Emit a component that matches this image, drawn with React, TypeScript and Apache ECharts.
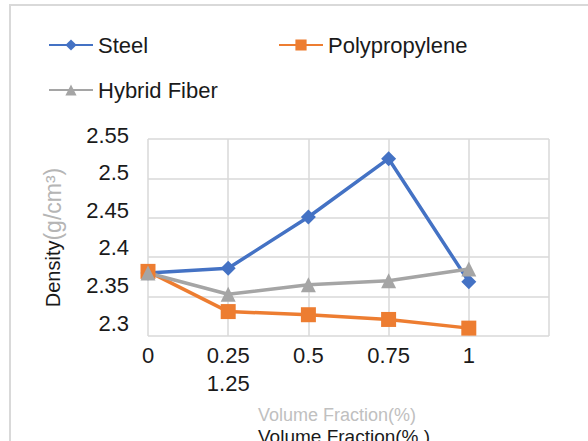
import React, { useEffect, useRef } from "react";
import * as echarts from "echarts";

const seriesNames = ["Steel", "Polypropylene", "Hybrid Fiber"];
const xValues = [0, 0.25, 0.5, 0.75, 1];
const steel = [2.38, 2.386, 2.451, 2.525, 2.369];
const polypropylene = [2.382, 2.331, 2.327, 2.321, 2.31];
const hybrid = [2.38, 2.353, 2.365, 2.37, 2.385];
const colors = ["#4472C4", "#ED7D31", "#A5A5A5"];
const symbols = ["diamond", "rect", "triangle"];

const FONT = "'Liberation Sans', Arial, sans-serif";

export default function App() {
  const ref = useRef<HTMLDivElement>(null);
  useEffect(() => {
    if (!ref.current) return;
    const chart = echarts.init(ref.current, null, { renderer: "svg" });
    const datasets = [steel, polypropylene, hybrid];
    const legendPos = [
      { left: 48, top: 34 },
      { left: 278, top: 34 },
      { left: 48, top: 79 },
    ];
    chart.setOption({
      animation: false,
      backgroundColor: "#ffffff",
      textStyle: { fontFamily: FONT },
      legend: seriesNames.map((n, i) => ({
        data: [n],
        left: legendPos[i].left,
        top: legendPos[i].top,
        padding: 0,
        itemWidth: 44,
        itemHeight: 14,
        textStyle: { fontSize: 22, color: "#1a1a1a", fontFamily: FONT },
      })),
      grid: [
        { left: 148, top: 139, width: 401, height: 197 },
        { left: 148, top: 135, width: 401, height: 188 },
      ],
      xAxis: [
        {
          type: "value",
          gridIndex: 0,
          min: 0,
          max: 1.25,
          interval: 0.25,
          axisLine: { show: false },
          axisTick: { show: false },
          splitLine: { show: true, lineStyle: { color: "#d9d9d9", width: 1.5 } },
          axisLabel: {
            fontSize: 22,
            lineHeight: 28,
            color: "#1a1a1a",
            fontFamily: FONT,
            margin: 5,
            showMaxLabel: true,
            formatter: (v: number) => {
              if (Math.abs(v - 0.25) < 1e-6) return "0.25\n1.25";
              if (Math.abs(v - 1.25) < 1e-6) return "";
              return String(+v.toFixed(2));
            },
          },
        },
        { type: "value", gridIndex: 1, show: false, min: 0, max: 1.25 },
      ],
      yAxis: [
        {
          type: "value",
          gridIndex: 0,
          min: 2.3,
          max: 2.55,
          interval: 0.05,
          axisLine: { show: false },
          axisTick: { show: false },
          axisLabel: { show: false },
          splitLine: { show: true, lineStyle: { color: "#d9d9d9", width: 1.5 } },
          name: "{a|Density}{b|(g/cm³)}",
          nameLocation: "middle",
          nameRotate: 90,
          nameGap: 84,
          nameTextStyle: {
            rich: {
              a: { fontSize: 20, color: "#1a1a1a", fontFamily: FONT },
              b: { fontSize: 23, color: "#b5b5b5", fontFamily: FONT },
            },
          },
        },
        {
          type: "value",
          gridIndex: 1,
          min: 2.3,
          max: 2.55,
          interval: 0.05,
          axisLine: { show: false },
          axisTick: { show: false },
          splitLine: { show: false },
          axisLabel: {
            fontSize: 22,
            color: "#1a1a1a",
            fontFamily: FONT,
            margin: 19,
            formatter: (v: number) => String(+v.toFixed(2)),
          },
        },
      ],
      series: seriesNames.map((n, i) => ({
        name: n,
        type: "line",
        xAxisIndex: 0,
        yAxisIndex: 0,
        data: xValues.map((x, j) => [x, datasets[i][j]]),
        symbol: symbols[i],
        symbolSize: 15,
        itemStyle: { color: colors[i] },
        lineStyle: { color: colors[i], width: 3.5 },
      })),
      graphic: [
        {
          type: "rect",
          shape: { x: 10, y: 5, width: 700, height: 600 },
          style: { fill: "none", stroke: "#d9d9d9", lineWidth: 2 },
          silent: true,
        },
        {
          type: "text",
          left: 258,
          top: 427,
          z: 1,
          style: {
            text: "Volume Fraction(% )",
            fontSize: 19,
            fill: "#1a1a1a",
            fontFamily: FONT,
          },
        },
        {
          type: "text",
          left: 258,
          top: 406,
          z: 2,
          style: {
            text: "Volume Fraction(%)",
            fontSize: 18,
            fill: "#c0c0c0",
            fontFamily: FONT,
          },
        },
      ],
    });
    return () => chart.dispose();
  }, []);
  return (
    <div
      ref={ref}
      style={{ position: "fixed", left: 0, top: 0, width: 588, height: 441 }}
    />
  );
}
